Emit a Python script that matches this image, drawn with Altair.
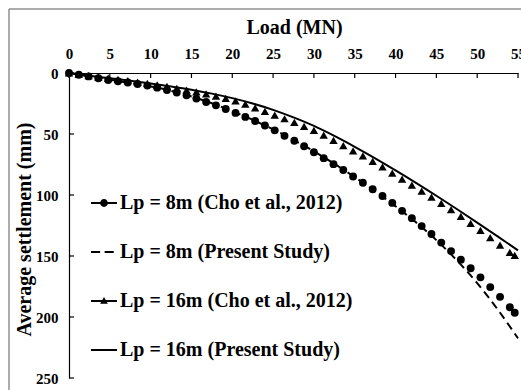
import altair as alt
import pandas as pd

# ---------------- data ----------------
series_names = [
    "Lp = 8m (Cho et al., 2012)",
    "Lp = 8m (Present Study)",
    "Lp = 16m (Cho et al., 2012)",
    "Lp = 16m (Present Study)",
]

load_cho = [0, 1.2, 2.4, 3.6, 4.8, 6.0, 7.2, 8.4, 9.6, 10.8, 12.0, 13.2, 14.4, 15.6,
            16.8, 18.0, 19.2, 20.4, 21.6, 22.8, 24.0, 25.2, 26.4, 27.6, 28.8, 30.0,
            31.2, 32.4, 33.6, 34.8, 36.0, 37.2, 38.4, 39.6, 40.8, 42.0, 43.2, 44.4,
            45.6, 46.8, 48.0, 49.2, 50.4, 51.6, 52.8, 54.0, 54.6]

settle_8m_cho = [0, 1.4, 2.8, 4.3, 5.8, 6.8, 7.8, 9.0, 10.3, 12.0, 14.0, 16.0, 18.3,
                 21.0, 23.8, 26.5, 29.5, 32.7, 36.0, 39.3, 43.0, 47.0, 51.5, 55.5,
                 60.0, 65.0, 69.8, 74.7, 79.5, 84.8, 90.0, 95.3, 100.8, 106.5, 113.0,
                 119.0, 125.5, 132.0, 139.0, 146.0, 153.0, 160.0, 167.5, 175.5, 183.5,
                 192.0, 196.5]

settle_16m_cho = [0, 1.1, 2.2, 3.3, 4.3, 5.2, 6.3, 7.4, 8.6, 9.8, 11.0, 12.5, 14.0,
                  15.5, 17.2, 19.0, 20.8, 22.8, 25.5, 28.5, 31.5, 34.5, 37.5, 40.5,
                  43.7, 47.0, 51.0, 55.3, 59.6, 63.8, 68.0, 72.5, 77.0, 82.0, 87.0,
                  92.0, 96.8, 101.7, 106.8, 112.0, 117.5, 123.2, 129.0, 135.0, 141.0,
                  147.0, 149.5]

load_ps = [0, 2.5, 5, 7.5, 10, 12.5, 15, 17.5, 20, 22.5, 25, 27.5, 30, 32.5, 35,
           37.5, 40, 42.5, 45, 47.5, 50, 52.5, 55]

settle_8m_ps = [0, 2.8, 5.5, 8.2, 11.0, 14.6, 19.2, 24.8, 31.2, 38.4, 46.2, 54.8,
                64.2, 74.4, 85.3, 96.9, 109.2, 122.4, 137.0, 153.5, 172.2, 193.7, 217.5]

settle_16m_ps = [0, 2.2, 4.3, 6.4, 8.6, 11.0, 13.7, 16.9, 20.6, 25.0, 30.2, 36.4,
                 43.4, 51.6, 60.5, 69.9, 79.8, 90.0, 100.6, 111.5, 122.6, 133.9, 145.4]

x_ticks = [0, 5, 10, 15, 20, 25, 30, 35, 40, 45, 50, 55]
y_ticks = [0, 50, 100, 150, 200, 250]

# ---------------- tables ----------------
df_8m_cho = pd.DataFrame({"load": load_cho, "settle": settle_8m_cho})
df_16m_cho = pd.DataFrame({"load": load_cho, "settle": settle_16m_cho})
df_8m_ps = pd.DataFrame({"load": load_ps, "settle": settle_8m_ps})
df_16m_ps = pd.DataFrame({"load": load_ps, "settle": settle_16m_ps})
df_xt = pd.DataFrame({"load": x_ticks})
df_yt = pd.DataFrame({"settle": y_ticks})
df_leg = pd.DataFrame({"series": series_names})

FONT = "Liberation Serif"

x_enc = alt.X(
    "load:Q",
    scale=alt.Scale(domain=[0, 55], nice=False, zero=False),
    axis=alt.Axis(
        orient="top", title="Load (MN)", values=x_ticks, grid=False, ticks=False,
        tickSize=0, labelPadding=12, labelFont=FONT, labelFontWeight="bold",
        labelFontSize=15, labelColor="black", labelFlush=False, labelOverlap=False,
        domainColor="black", domainWidth=1.2, titleFont=FONT, titleFontWeight="bold",
        titleFontSize=20, titleColor="black", titleX=225, titleY=-40,
        titleBaseline="alphabetic", titleAlign="center",
    ),
)
y_enc = alt.Y(
    "settle:Q",
    scale=alt.Scale(domain=[0, 250], reverse=True, nice=False),
    axis=alt.Axis(
        orient="left", title="Average settlement (mm)", values=y_ticks, grid=False,
        ticks=False, tickSize=0, labelPadding=11, labelFont=FONT,
        labelFontWeight="bold", labelFontSize=15, labelColor="black",
        labelFlush=False, labelOverlap=False, domainColor="black", domainWidth=1.2,
        titleFont=FONT, titleFontWeight="bold", titleFontSize=20,
        titleColor="black", titleX=-39, titleY=156, titleAngle=270,
        titleBaseline="alphabetic", titleAlign="center",
    ),
)

# outer frame of the chart area
frame = alt.Chart(df_leg.head(1)).mark_rect(
    fillOpacity=0, stroke="#595959", strokeWidth=1
).encode(x=alt.value(-60), x2=alt.value(470), y=alt.value(-64), y2=alt.value(330))

circles = alt.Chart(df_8m_cho).mark_point(
    shape="circle", filled=True, color="black", size=62, opacity=1
).encode(x=x_enc, y=y_enc)

dashed = alt.Chart(df_8m_ps).mark_line(
    color="black", strokeWidth=2, strokeDash=[8, 5], interpolate="monotone"
).encode(x=x_enc, y=y_enc)

triangles = alt.Chart(df_16m_cho).mark_point(
    shape="triangle-up", filled=True, color="black", size=70, opacity=1
).encode(x=x_enc, y=y_enc)

solid = alt.Chart(df_16m_ps).mark_line(
    color="black", strokeWidth=2, interpolate="monotone"
).encode(x=x_enc, y=y_enc)

xt = alt.Chart(df_xt).mark_rule(color="black", strokeWidth=1.2).encode(
    x=x_enc, y=alt.value(0), y2=alt.value(5)
)
yt = alt.Chart(df_yt).mark_rule(color="black", strokeWidth=1.2).encode(
    y=y_enc, x=alt.value(0), x2=alt.value(5)
)

# legend symbols drawn as filled paths (line = thin rectangle); the
# degenerate end points give every symbol the same bounding box
BOX = "M-1,-1L-1,-1M1,1L1,1"
legend_paths = [
    BOX + "M-1,-0.075H1V0.075H-1Z M0.3,0A0.3,0.3,0,1,1,-0.3,0A0.3,0.3,0,1,1,0.3,0Z",
    BOX + "M-1,-0.075H-0.3V0.075H-1Z M0.05,-0.075H0.75V0.075H0.05Z",
    BOX + "M-1,-0.075H1V0.075H-1Z M0,-0.3L0.3,0.22L-0.3,0.22Z",
    BOX + "M-1,-0.075H1V0.075H-1Z",
]

legend_layer = alt.Chart(df_leg).mark_point(
    filled=True, color="black", opacity=0
).encode(
    shape=alt.Shape(
        "series:N",
        scale=alt.Scale(domain=series_names, range=legend_paths),
        legend=alt.Legend(
            title=None, orient="none", legendX=22, legendY=117, padding=0,
            labelFont=FONT, labelFontWeight="bold", labelFontSize=20,
            labelColor="black", labelOffset=3, labelLimit=400,
            symbolSize=676, symbolStrokeWidth=0, symbolFillColor="black",
            symbolOpacity=1, rowPadding=23,
        ),
    )
)

chart = alt.layer(
    frame, circles, dashed, triangles, solid, xt, yt, legend_layer
).properties(
    width=449,
    height=305,
    autosize=alt.AutoSizeParams(type="none"),
    padding={"left": 69, "top": 73, "right": 3, "bottom": 12},
    background="white",
).configure_view(stroke=None)

chart.save("out.html", embed_options={"renderer": "svg", "actions": False})
